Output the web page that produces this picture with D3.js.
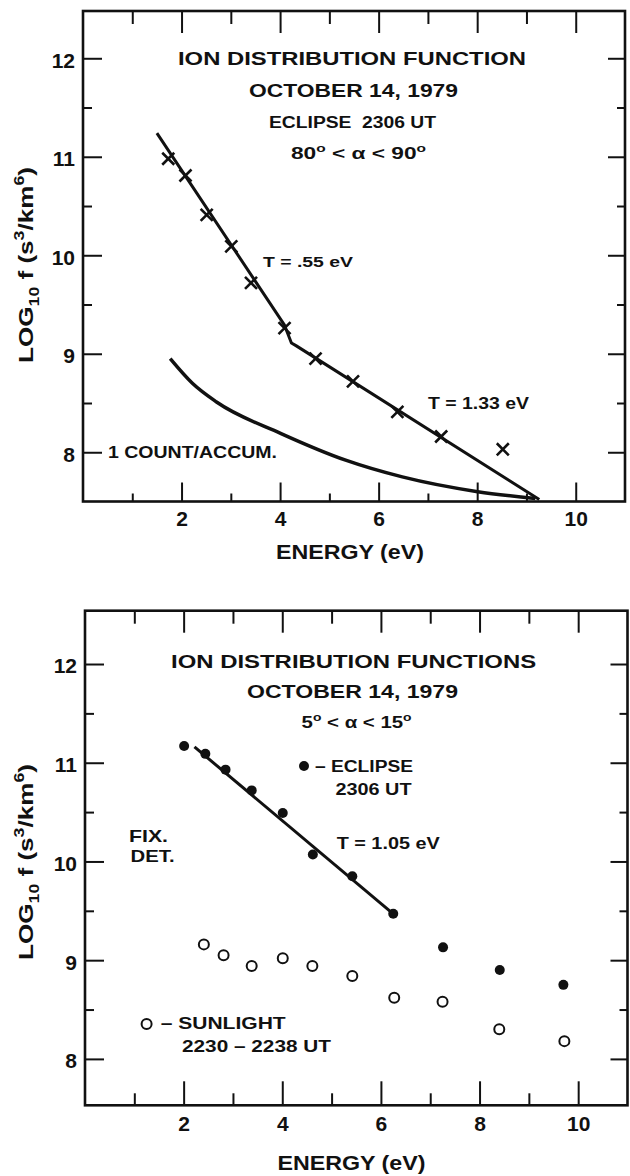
<!DOCTYPE html>
<html>
<head>
<meta charset="utf-8">
<script src="https://cdn.jsdelivr.net/npm/d3@7"></script>
<style>
  body { margin: 0; background: #fff; }
  svg text { font-family: "Liberation Sans", Arial, sans-serif; font-weight: bold; fill: #111; white-space: pre; }
</style>
</head>
<body>
<div id="chart"></div>
<script>
// tick values shared by both panels
const xMajorTicks = [2, 4, 6, 8, 10];
const xMinorTicks = [1, 3, 5, 7, 9];
const yMajorTicks = [8, 9, 10, 11, 12];
const yMinorTicks = [8.5, 9.5, 10.5, 11.5];

// upper panel: 80 < alpha < 90, eclipse 2306 UT
const crossEnergy = [1.73, 2.08, 2.51, 3.01, 3.41, 4.09, 4.72, 5.48, 6.38, 7.27, 8.52];
const crossLogF   = [10.98, 10.81, 10.41, 10.09, 9.72, 9.26, 8.95, 8.72, 8.41, 8.16, 8.03];
const fit90Energy = [1.50, 4.09, 4.23, 4.33, 9.26];
const fit90LogF   = [11.24, 9.29, 9.11, 9.08, 7.52];
const countEnergy = [1.77, 2.22, 2.71, 4.02, 5.33, 6.48, 8.01, 9.18];
const countLogF   = [8.95, 8.70, 8.51, 8.19, 7.92, 7.75, 7.60, 7.53];

// lower panel: 5 < alpha < 15
const eclipseEnergy  = [2.01, 2.44, 2.85, 3.38, 4.01, 4.62, 5.42, 6.25, 7.26, 8.41, 9.70];
const eclipseLogF    = [11.17, 11.09, 10.93, 10.72, 10.49, 10.07, 9.85, 9.47, 9.13, 8.90, 8.75];
const sunlightEnergy = [2.41, 2.81, 3.38, 4.01, 4.61, 5.42, 6.27, 7.25, 8.40, 9.72];
const sunlightLogF   = [9.16, 9.05, 8.94, 9.02, 8.94, 8.84, 8.62, 8.58, 8.30, 8.18];
const fit15Energy    = [2.22, 6.25];
const fit15LogF      = [11.16, 9.47];

const W = 630, H = 1176;
const zip = (xs, ys) => xs.map((v, i) => [v, ys[i]]);

const svg = d3.select('#chart').append('svg')
  .attr('width', W).attr('height', H);

// text helper, parts can be plain strings or [string, 'sup'|'sub']
function label(g, parts, o) {
  const t = g.append('text')
    .attr('x', o.x).attr('y', o.y)
    .attr('font-size', o.size)
    .attr('text-anchor', o.anchor || 'start');
  if (o.len) t.attr('textLength', o.len).attr('lengthAdjust', 'spacingAndGlyphs');
  let shift = 0;
  [].concat(parts).forEach(p => {
    const [s, kind] = Array.isArray(p) ? p : [p, null];
    const target = kind === 'sup' ? -o.size * 0.42 : kind === 'sub' ? o.size * 0.3 : 0;
    t.append('tspan')
      .attr('dy', target - shift)
      .attr('font-size', kind ? o.size * 0.68 : o.size)
      .text(s);
    shift = target;
  });
  if (o.rotate) t.attr('transform', `rotate(-90,${o.x},${o.y})`);
  return t;
}

function panel(p) {
  const x = d3.scaleLinear().domain([0, 11]).range([p.left, p.right]);
  const y = d3.scaleLinear().domain(p.yDomain).range([p.bottom, p.top]);
  const g = svg.append('g');

  const tickAxis = (axis, at, size, values, withLabels, pad) => {
    const a = g.append('g')
      .attr('transform', at)
      .call(axis.tickValues(values).tickSizeInner(-size).tickSizeOuter(0)
        .tickPadding(pad || 0).tickFormat(withLabels ? d3.format('d') : ''));
    a.select('.domain').remove();
    a.selectAll('line').attr('stroke', '#111').attr('stroke-width', 2);
    return a;
  };

  // left
  const yl = tickAxis(d3.axisLeft(y), `translate(${p.left},0)`, 19, yMajorTicks, true, 8);
  yl.selectAll('text').attr('font-size', 21).attr('dy', '0.42em')
    .attr('font-family', '"Liberation Sans", Arial, sans-serif').attr('fill', '#111');
  tickAxis(d3.axisLeft(y), `translate(${p.left},0)`, 9, yMinorTicks, false);
  // right
  tickAxis(d3.axisRight(y), `translate(${p.right},0)`, 17, yMajorTicks, false);
  tickAxis(d3.axisRight(y), `translate(${p.right},0)`, 8, yMinorTicks, false);
  // top
  tickAxis(d3.axisTop(x), `translate(0,${p.top})`, 22, xMajorTicks, false);
  tickAxis(d3.axisTop(x), `translate(0,${p.top})`, 13, xMinorTicks, false);
  // bottom
  const xb = tickAxis(d3.axisBottom(x), `translate(0,${p.bottom})`, p.majorBottom, xMajorTicks, true, p.xPad);
  xb.selectAll('text').attr('font-size', 21)
    .attr('font-family', '"Liberation Sans", Arial, sans-serif').attr('fill', '#111');
  tickAxis(d3.axisBottom(x), `translate(0,${p.bottom})`, p.minorBottom, xMinorTicks, false);

  // frame
  g.append('rect')
    .attr('x', x(0)).attr('y', y(p.yDomain[1]))
    .attr('width', x(11) - x(0)).attr('height', y(p.yDomain[0]) - y(p.yDomain[1]))
    .attr('fill', 'none').attr('stroke', '#111').attr('stroke-width', 2.6);

  label(g, 'ENERGY (eV)', { x: p.energyX, y: p.energyY, size: 19.5, anchor: 'middle', len: 148 });
  label(g, ['LOG', ['10', 'sub'], ' f (s', ['3', 'sup'], '/km', ['6', 'sup'], ')'],
    { x: 33, y: p.yLabelY, size: 21, anchor: 'middle', len: 196, rotate: true });

  return { x, y, g };
}

const line = (x, y) => d3.line().x(d => x(d[0])).y(d => y(d[1]));

// ---- upper panel ----
{
  const { x, y, g } = panel({
    left: 83, right: 625, top: 11, bottom: 501.5, yDomain: [7.5, 12.48],
    majorBottom: 19, minorBottom: 8, xPad: 10,
    energyX: 350, energyY: 559, yLabelY: 265
  });

  g.append('path').datum(zip(fit90Energy, fit90LogF))
    .attr('d', line(x, y)).attr('fill', 'none')
    .attr('stroke', '#111').attr('stroke-width', 3).attr('stroke-linejoin', 'round');

  g.append('path').datum(zip(countEnergy, countLogF))
    .attr('d', line(x, y).curve(d3.curveMonotoneX)).attr('fill', 'none')
    .attr('stroke', '#111').attr('stroke-width', 3.5);

  g.selectAll('.cross').data(zip(crossEnergy, crossLogF)).enter()
    .append('path').attr('class', 'cross')
    .attr('transform', d => `translate(${x(d[0])},${y(d[1])})`)
    .attr('d', d3.symbol().type(d3.symbolX).size(96))
    .attr('fill', 'none').attr('stroke', '#111').attr('stroke-width', 2.6);

  label(g, 'ION DISTRIBUTION FUNCTION', { x: 352, y: 65, size: 19, anchor: 'middle', len: 348 });
  label(g, 'OCTOBER 14, 1979', { x: 353.5, y: 96.5, size: 18.5, anchor: 'middle', len: 209 });
  label(g, 'ECLIPSE  2306 UT', { x: 352.5, y: 128, size: 16, anchor: 'middle', len: 167 });
  label(g, ['80', ['o', 'sup'], ' < \u03b1 < 90', ['o', 'sup']],
    { x: 358.5, y: 159, size: 16.5, anchor: 'middle', len: 135 });
  label(g, 'T = .55 eV', { x: 263, y: 266.5, size: 15, len: 90 });
  label(g, 'T = 1.33 eV', { x: 428, y: 408.5, size: 16.5, len: 101 });
  label(g, '1 COUNT/ACCUM.', { x: 108, y: 457.7, size: 17, len: 169 });
}

// ---- lower panel ----
{
  const { x, y, g } = panel({
    left: 85, right: 627.5, top: 610.7, bottom: 1105.3, yDomain: [7.53, 12.54],
    majorBottom: 24, minorBottom: 12, xPad: 11,
    energyX: 351.5, energyY: 1170, yLabelY: 862
  });

  g.append('path').datum(zip(fit15Energy, fit15LogF))
    .attr('d', line(x, y)).attr('fill', 'none')
    .attr('stroke', '#111').attr('stroke-width', 3);

  g.selectAll('.eclipse').data(zip(eclipseEnergy, eclipseLogF)).enter()
    .append('circle').attr('class', 'eclipse')
    .attr('cx', d => x(d[0])).attr('cy', d => y(d[1])).attr('r', 5)
    .attr('fill', '#111');

  g.selectAll('.sun').data(zip(sunlightEnergy, sunlightLogF)).enter()
    .append('circle').attr('class', 'sun')
    .attr('cx', d => x(d[0])).attr('cy', d => y(d[1])).attr('r', 5)
    .attr('fill', '#fff').attr('stroke', '#111').attr('stroke-width', 2);

  label(g, 'ION DISTRIBUTION FUNCTIONS', { x: 353.6, y: 668.3, size: 19, anchor: 'middle', len: 365 });
  label(g, 'OCTOBER 14, 1979', { x: 352.5, y: 698.3, size: 18.5, anchor: 'middle', len: 211 });
  label(g, ['5', ['o', 'sup'], ' < \u03b1 < 15', ['o', 'sup']],
    { x: 356.6, y: 728.3, size: 16.5, anchor: 'middle', len: 110 });

  // legend
  g.append('circle').attr('cx', 304).attr('cy', 766).attr('r', 5).attr('fill', '#111');
  label(g, '\u2013 ECLIPSE', { x: 315, y: 771.7, size: 16, len: 98 });
  label(g, '2306 UT', { x: 335.5, y: 795, size: 16, len: 76 });
  g.append('circle').attr('cx', 146.6).attr('cy', 1024).attr('r', 5)
    .attr('fill', '#fff').attr('stroke', '#111').attr('stroke-width', 2);
  label(g, '\u2013 SUNLIGHT', { x: 160.7, y: 1029.3, size: 17, len: 125 });
  label(g, '2230 \u2013 2238 UT', { x: 182, y: 1052, size: 17, len: 149 });

  label(g, 'FIX.', { x: 129, y: 841.7, size: 17, len: 39 });
  label(g, 'DET.', { x: 130.6, y: 861.7, size: 17, len: 44 });
  label(g, 'T = 1.05 eV', { x: 336.7, y: 849.3, size: 16, len: 103 });
}
</script>
</body>
</html>
